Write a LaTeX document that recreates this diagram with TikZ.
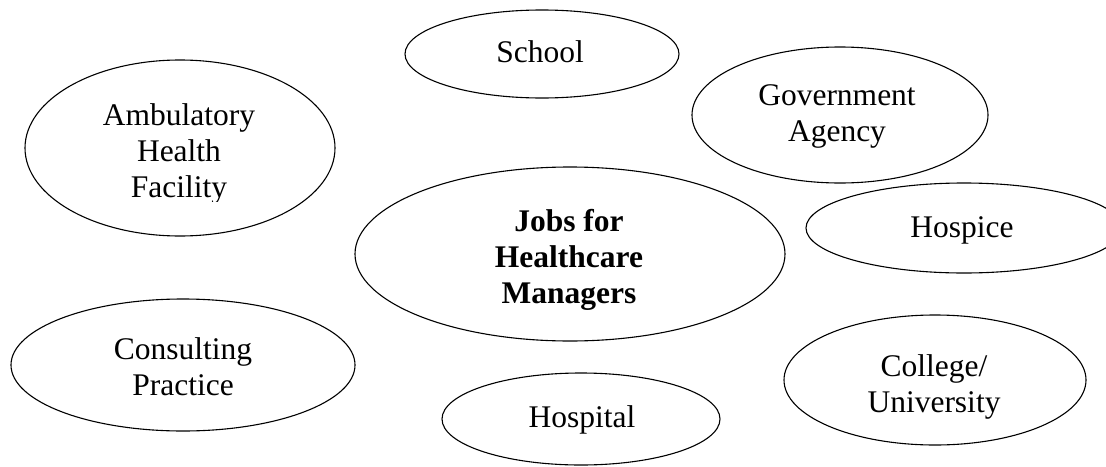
\documentclass[tikz,border=0pt]{standalone}
\usepackage{fontspec}
\setmainfont{Liberation Serif}

\def\labelSize{31.5}
\def\labelSkip{36}

\tikzset{
  bubble/.style={draw, line width=1.1pt},
  bubbletext/.style={font=\fontsize{\labelSize}{\labelSkip}\selectfont, align=center, inner sep=0pt, anchor=base}
}

\begin{document}
\begin{tikzpicture}[x=1pt,y=-1pt]
    \useasboundingbox (0,0) rectangle (1106,466);

    % the bubbles
    \foreach \x/\y/\rx/\ry in {542/54/137/44, 840/115/148/68, 180/148/155/88, 570/254/215/87,
                               964/228/158/45, 183/365/172/66, 581/419/139/46, 935/380/151/65} {
      \draw[bubble] (\x,\y) ellipse ({\rx pt} and {\ry pt});
    }

    % the labels (placed at the baseline of their last line)
    \node[bubbletext] (school) at (540,62) {School};
    \node[bubbletext] (agency) at (837,141) {Government\\Agency};
    \node[bubbletext] (hospice) at (962,237) {Hospice};
    \node[bubbletext] (consulting) at (183,395) {Consulting\\Practice};
    \node[bubbletext] (hospital) at (582,427) {Hospital};

    % these three are cut off at the bottom
    \begin{scope}
      \clip (0,0) rectangle (1106,201);
      \node[bubbletext] (ambulatory) at (179,197) {Ambulatory\\Health\\Facility};
    \end{scope}
    \begin{scope}
      \clip (0,0) rectangle (1106,309);
      \node[bubbletext, font=\fontsize{\labelSize}{\labelSkip}\selectfont\bfseries] (jobs) at (569,303) {Jobs for\\Healthcare\\Managers};
    \end{scope}
    \begin{scope}
      \clip (0,0) rectangle (1106,418);
      \node[bubbletext] (college) at (934,412) {College/\\University};
    \end{scope}
\end{tikzpicture}
\end{document}
